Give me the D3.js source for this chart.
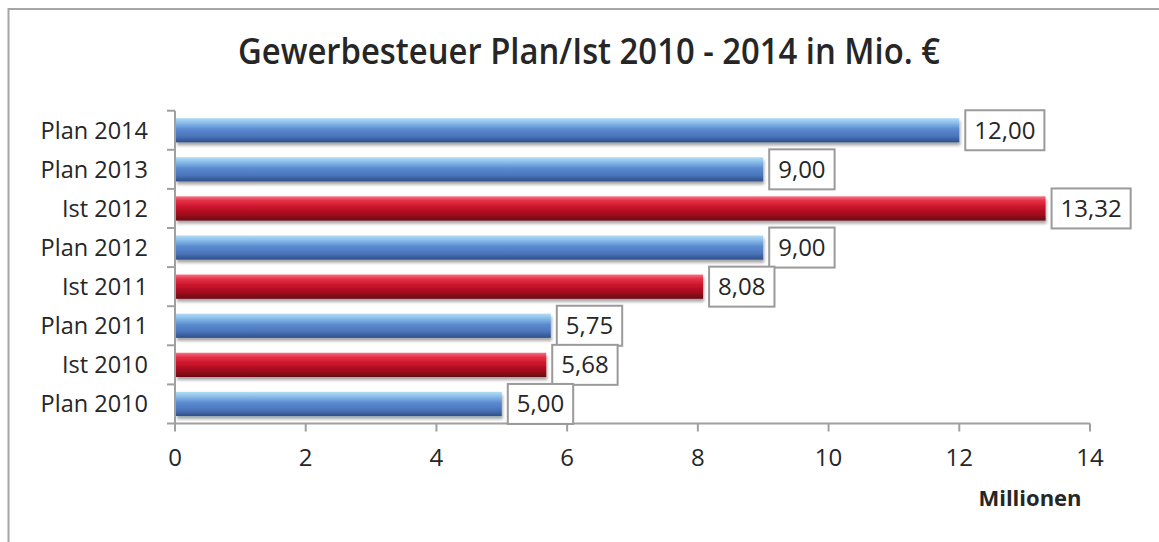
<!DOCTYPE html>
<html><head><meta charset="utf-8">
<script src="https://cdn.jsdelivr.net/npm/d3@7"></script>
<style>
html,body{margin:0;padding:0;background:#fff;}
svg{display:block;}
</style>
</head><body>
<svg id="c" width="1159" height="542"></svg>
<script>
const categories = ["Plan 2014","Plan 2013","Ist 2012","Plan 2012","Ist 2011","Plan 2011","Ist 2010","Plan 2010"];
const values = [12.00, 9.00, 13.32, 9.00, 8.08, 5.75, 5.68, 5.00];
const kinds = ["plan","plan","ist","plan","ist","plan","ist","plan"];
const xTicks = [0,2,4,6,8,10,12,14];
const title = "Gewerbesteuer Plan/Ist 2010 - 2014 in Mio. €";
const axisTitle = "Millionen";

const svg = d3.select("#c");
const font = "'Open Sans', 'Noto Sans', sans-serif";
const textCol = "#262626";
const axisCol = "#a0a0a0";

// frame
svg.append("rect").attr("x",8.5).attr("y",9).attr("width",1160).attr("height",540)
  .attr("fill","#fff").attr("stroke","#a6a6a6").attr("stroke-width",2);

const defs = svg.append("defs");
const gb = defs.append("linearGradient").attr("id","gBlue").attr("x1",0).attr("y1",0).attr("x2",0).attr("y2",1);
[["0%","#b4dcf4"],["18%","#8cc0ea"],["45%","#5b8bd0"],["75%","#4a74bb"],["100%","#2f4f86"]]
  .forEach(s=>gb.append("stop").attr("offset",s[0]).attr("stop-color",s[1]));
const gr = defs.append("linearGradient").attr("id","gRed").attr("x1",0).attr("y1",0).attr("x2",0).attr("y2",1);
[["0%","#f57384"],["18%","#e63047"],["45%","#c8142a"],["75%","#a00c1c"],["100%","#650610"]]
  .forEach(s=>gr.append("stop").attr("offset",s[0]).attr("stop-color",s[1]));
const f = defs.append("filter").attr("id","sh").attr("x","-5%").attr("y","-30%").attr("width","110%").attr("height","180%");
f.append("feDropShadow").attr("dx",1).attr("dy",3).attr("stdDeviation",1.8).attr("flood-color","#000").attr("flood-opacity",0.35);

const x = d3.scaleLinear().domain([0,14]).range([175,1090]);
const p = 0.38;
const y = d3.scaleBand().domain(categories).range([110.7,423.5]).paddingInner(p).paddingOuter(p/2);
const step = y.step();

// bars
svg.append("g").selectAll("rect").data(categories).join("rect")
  .attr("x", x(0)+1)
  .attr("y", d=>y(d))
  .attr("width", (d,i)=>x(values[i])-x(0)-1)
  .attr("height", y.bandwidth())
  .attr("fill", (d,i)=>kinds[i]==="plan"?"url(#gBlue)":"url(#gRed)")
  .attr("filter","url(#sh)");

// y axis
const yTickPos = categories.map(c=>y(c)-step*p/2).concat([y(categories[categories.length-1])-step*p/2+step]);
const ax = svg.append("g");
ax.append("line").attr("x1",x(0)).attr("x2",x(0)).attr("y1",yTickPos[0]).attr("y2",yTickPos[yTickPos.length-1])
  .attr("stroke",axisCol).attr("stroke-width",2);
ax.selectAll("line.yt").data(yTickPos).join("line").attr("class","yt")
  .attr("x1",x(0)-8).attr("x2",x(0)).attr("y1",d=>d).attr("y2",d=>d)
  .attr("stroke",axisCol).attr("stroke-width",2);
const yBase = yTickPos[yTickPos.length-1];
ax.append("line").attr("x1",x(0)).attr("x2",x(14)).attr("y1",yBase).attr("y2",yBase)
  .attr("stroke",axisCol).attr("stroke-width",2);
ax.selectAll("line.xt").data(xTicks).join("line").attr("class","xt")
  .attr("x1",d=>x(d)).attr("x2",d=>x(d)).attr("y1",yBase).attr("y2",yBase+8)
  .attr("stroke",axisCol).attr("stroke-width",2);

// tick labels
svg.append("g").selectAll("text").data(xTicks).join("text")
  .attr("x",d=>x(d)).attr("y",466).attr("text-anchor","middle")
  .attr("font-family",font).attr("font-size",24).attr("fill",textCol).text(d=>d);

svg.append("g").selectAll("text").data(categories).join("text")
  .attr("x",148).attr("y",d=>y(d)+y.bandwidth()/2+8.5).attr("text-anchor","end")
  .attr("font-family",font).attr("font-size",23.5).attr("fill",textCol).text(d=>d);

// value labels
const fmt = v=>v.toFixed(2).replace(".",",");
const lg = svg.append("g");
categories.forEach((c,i)=>{
  const g = lg.append("g");
  const t = g.append("text").attr("font-family",font).attr("font-size",24).attr("fill",textCol).text(fmt(values[i]));
  const w = t.node().getComputedTextLength();
  const bx = x(values[i])+6, cy = y(c)+y.bandwidth()/2;
  g.insert("rect","text").attr("x",bx).attr("y",cy-20).attr("width",w+18).attr("height",40)
    .attr("fill","#fff").attr("stroke","#9a9a9a").attr("stroke-width",2);
  t.attr("x",bx+9).attr("y",cy+8.5);
});

// title
svg.append("text").attr("x",589).attr("y",64).attr("text-anchor","middle")
  .attr("font-family",font).attr("font-weight",600).attr("font-size",36).attr("fill",textCol)
  .attr("textLength",702).attr("lengthAdjust","spacingAndGlyphs").text(title);

svg.append("text").attr("x",1030).attr("y",506).attr("text-anchor","middle")
  .attr("font-family",font).attr("font-weight","bold").attr("font-size",22).attr("fill",textCol).text(axisTitle);
</script>
</body></html>
